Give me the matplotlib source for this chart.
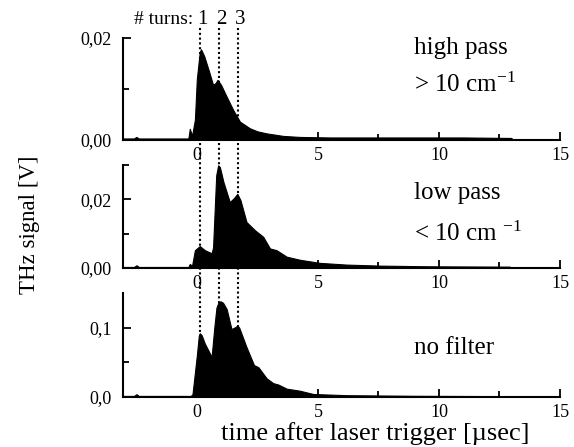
import numpy as np
import matplotlib
matplotlib.use("Agg")
import matplotlib.pyplot as plt
from matplotlib.transforms import blended_transform_factory
from matplotlib.ticker import FixedLocator

plt.rcParams['font.family'] = ['Liberation Serif', 'DejaVu Serif']
plt.rcParams['mathtext.fontset'] = 'stix'

# time axis values (usec) and signals (V)
t_high = [-3.05, -2.6, -2.5, -2.4, -1.0, -0.35, -0.29, -0.2, -0.08, 0.0, 0.12, 0.17, 0.3,
          0.5, 0.67, 0.78, 0.85, 1.0, 1.2, 1.5, 1.78, 2.19, 2.5, 2.88, 3.57, 4.26,
          5.5, 7.0, 9.0, 11.0, 13.0]
v_high = [0.0003, 0.0003, 0.0006, 0.0003, 0.0003, 0.0003, 0.0022, 0.0008, 0.004, 0.012, 0.0172, 0.0178, 0.0165,
          0.0135, 0.0108, 0.0112, 0.0118, 0.0108, 0.0088, 0.0059, 0.0036, 0.0023, 0.0017, 0.0013, 0.0008, 0.0006,
          0.0005, 0.0005, 0.0005, 0.0005, 0.0004]

t_low = [-3.05, -2.6, -2.49, -2.4, -1.0, -0.35, -0.29, -0.2, -0.08, 0.12, 0.33, 0.61, 0.67,
         0.8, 0.88, 0.95, 1.1, 1.36, 1.55, 1.67, 1.8, 2.05, 2.4, 2.74, 3.02, 3.29, 3.71, 4.26, 5.08,
         6.18, 7.56, 9.63, 12.93]
v_low = [0.0003, 0.0003, 0.0008, 0.0003, 0.0003, 0.0003, 0.0012, 0.0006, 0.0052, 0.0064, 0.0052, 0.0043, 0.006,
         0.027, 0.0299, 0.0294, 0.025, 0.0192, 0.0205, 0.0216, 0.0198, 0.0134, 0.011, 0.0091, 0.0057, 0.0052,
         0.0033, 0.0024, 0.0015, 0.0010, 0.0007, 0.0005, 0.0004]

t_none = [-3.05, -2.6, -2.49, -2.4, -1.0, -0.25, -0.18, 0.0, 0.08, 0.12, 0.2, 0.33, 0.61, 0.72, 0.81, 0.9, 0.98,
          1.08, 1.23, 1.43, 1.6, 1.67, 1.75, 2.05, 2.36, 2.54, 2.88, 3.15, 3.36, 3.71, 4.26, 4.81, 6.18,
          8.94, 12.93]
v_none = [0.0015, 0.0015, 0.004, 0.0015, 0.0015, 0.0015, 0.004, 0.06, 0.088, 0.092, 0.089, 0.077, 0.058, 0.1, 0.129, 0.137, 0.138,
          0.136, 0.127, 0.098, 0.101, 0.103, 0.1, 0.072, 0.046, 0.043, 0.027, 0.020, 0.018, 0.012, 0.009, 0.0043, 0.0026,
          0.0017, 0.0012]

turns = [0.12, 0.91, 1.69]
turn_labels = ['1', '2', '3']

panels = [
    (t_high, v_high, 0.02, [0.0, 0.02], ['0,00', '0,02'], [0.01], ['high pass', '> 10 cm$^{\\mathregular{-1}}$'],
     [0.018, 0.0108]),
    (t_low, v_low, 0.03, [0.0, 0.02], ['0,00', '0,02'], [0.01, 0.03], ['low pass', '< 10 cm $^{\\mathregular{-1}}$'],
     [0.0217, 0.0101]),
    (t_none, v_none, 0.15, [0.0, 0.1], ['0,0', '0,1'], [0.05], ['no filter'], [0.071]),
]
boxes = [(0.6868, 0.915), (0.4004, 0.6309), (0.1119, 0.3445)]

fig = plt.figure(figsize=(5.74, 4.47), dpi=100)
axes = []
for (t, v, ytop, yt, ytl, ymin, texts, ty), (y0, y1) in zip(panels, boxes):
    ax = fig.add_axes([0.2143, y0, 0.9756 - 0.2143, y1 - y0])
    ax.fill_between(t, v, 0, color='black', lw=0.8, edgecolor='black')
    ax.set_xlim(-3.05, 15)
    ax.set_ylim(0, ytop)
    for s in ['top', 'right']:
        ax.spines[s].set_visible(False)
    for s in ['left', 'bottom']:
        ax.spines[s].set_linewidth(1.5)
    ax.set_xticks([0, 5, 10, 15])
    ax.set_xticklabels(['0', '5', '10', '15'])
    ax.xaxis.set_minor_locator(FixedLocator([2.5, 7.5, 12.5]))
    ax.set_yticks(yt)
    ax.set_yticklabels(ytl)
    ax.yaxis.set_minor_locator(FixedLocator(ymin))
    ax.tick_params(which='both', direction='in', width=1.3, labelsize=13)
    ax.tick_params(which='major', length=6)
    ax.tick_params(which='minor', length=4)
    ax.tick_params(axis='x', pad=5)
    ax.tick_params(axis='y', pad=8)
    for txt, yy in zip(texts, ty):
        ax.text(8.95, yy, txt, fontsize=18, va='center', ha='left')
    axes.append(ax)

# dotted lines marking the turns
tr = blended_transform_factory(axes[0].transData, fig.transFigure)
for xt, lab in zip(turns, turn_labels):
    fig.add_artist(plt.Line2D([xt, xt], [1 - 28 / 447, boxes[2][0]], transform=tr,
                              color='black', lw=1.5, ls=(0, (1, 1.3)), zorder=0.5))
    fig.text(xt + 0.1, 1 - 19 / 447, lab, transform=tr, fontsize=15, ha='center', va='center')
fig.text(-0.15, 1 - 19 / 447, '# turns:', transform=tr, fontsize=14, ha='right', va='center')

fig.text(0.653, 0.031, 'time after laser trigger [\u00b5sec]', fontsize=19, ha='center', va='center')
fig.text(0.052, 0.497, 'THz signal [V]', fontsize=16.5, rotation=90, ha='center', va='center')

fig.savefig('out.png', dpi=100)
